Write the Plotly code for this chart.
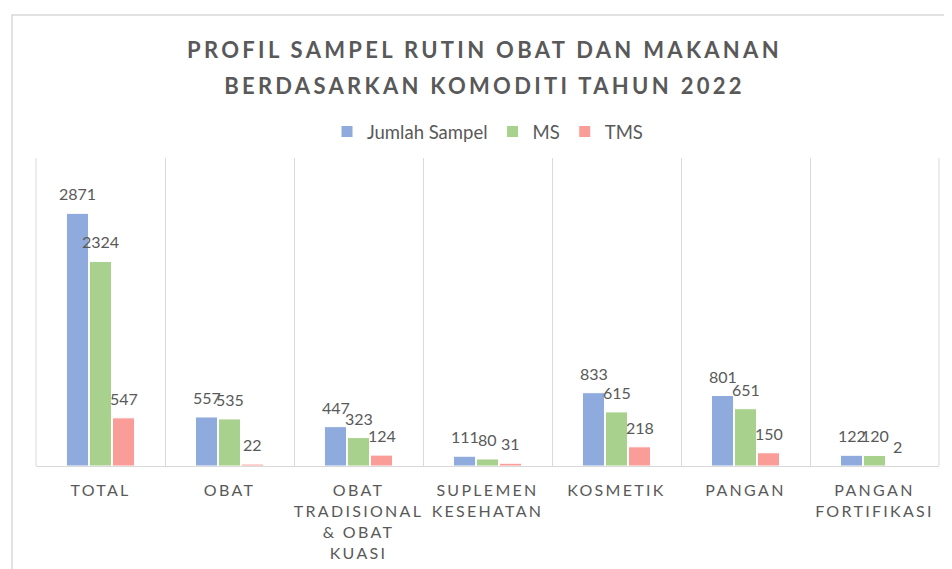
import plotly.graph_objects as go

categories = ["TOTAL", "OBAT", "OBAT TRADISIONAL & OBAT KUASI", "SUPLEMEN KESEHATAN",
              "KOSMETIK", "PANGAN", "PANGAN FORTIFIKASI"]
tick_labels = ["TOTAL", "OBAT", "OBAT<br>TRADISIONAL<br>& OBAT<br>KUASI", "SUPLEMEN<br>KESEHATAN",
               "KOSMETIK", "PANGAN", "PANGAN<br>FORTIFIKASI"]
jumlah_sampel = [2871, 557, 447, 111, 833, 801, 122]
ms = [2324, 535, 323, 80, 615, 651, 120]
tms = [547, 22, 124, 31, 218, 150, 2]
series_names = ["Jumlah Sampel", "MS", "TMS"]
title_lines = ["PROFIL SAMPEL RUTIN OBAT DAN MAKANAN", "BERDASARKAN KOMODITI TAHUN 2022"]

colors = ["#8FAADC", "#A9D18E", "#FA9C98"]
grey = "#595959"
FONT = "Lato"
BARGAP = 0.465


def spaced(text, ls, size=None):
    fs = f"font-size:{size}px;" if size else ""
    return "<br>".join(f'<span style="{fs}letter-spacing:{ls}px">{ln}</span>' for ln in text.split("<br>"))


fig = go.Figure()
series = [jumlah_sampel, ms, tms]
for name, vals, col in zip(series_names, series, colors):
    fig.add_trace(go.Bar(x=categories, y=vals, name=name,
                         marker=dict(color=col, line=dict(color="white", width=1))))

slot = (1 - BARGAP) / 3
annotations = []
for k, vals in enumerate(series):
    off = (k - 1) * slot
    for i, v in enumerate(vals):
        annotations.append(dict(x=i + off, y=v, xref="x", yref="y", text=str(v),
                                showarrow=False, yanchor="bottom", yshift=8,
                                font=dict(family=FONT, size=16, color=grey)))

# page body adds an 8px offset; layout below is in figure pixels
W, H = 952, 569
L, R, T, B = 28, 21, 150, 111
pw, ph = W - L - R, H - T - B


def px_x(p):
    return (p - L) / pw


def px_y(p):
    return (H - B - p) / ph


fig.update_layout(
    width=W, height=H,
    margin=dict(l=L, r=R, t=T, b=B, autoexpand=False),
    paper_bgcolor="white", plot_bgcolor="white",
    barmode="group", bargap=BARGAP, bargroupgap=0.04,
    title=dict(text=spaced("<br>".join(title_lines), 3.3, 22), x=px_x(480), xanchor="center",
               y=1 - 50 / H, yanchor="middle", yref="container",
               font=dict(family=FONT, size=27.7, color=grey, weight="bold")),
    legend=dict(orientation="h", x=0.5, xanchor="center", y=px_y(124), yanchor="middle",
                font=dict(family=FONT, size=18.5, color=grey), itemwidth=30,
                traceorder="normal"),
    xaxis=dict(type="category", range=[-0.5, 6.5], tickson="boundaries",
               tickvals=categories, ticktext=[spaced(t, 2.3) for t in tick_labels],
               tickangle=0, automargin=False,
               showgrid=True, gridcolor="#D9D9D9", gridwidth=1,
               showline=True, linecolor="#D9D9D9", linewidth=1,
               ticks="", tickfont=dict(family=FONT, size=16, color=grey),
               ticklabelstandoff=10),
    yaxis=dict(range=[0, 3500], visible=False, automargin=False),
    annotations=annotations,
    shapes=[dict(type="rect", xref="paper", yref="paper",
                 x0=px_x(4), y0=px_y(600), x1=px_x(990), y1=px_y(7),
                 line=dict(color="#D9D9D9", width=1.5), layer="below"),
            dict(type="line", xref="paper", yref="paper", x0=0, x1=0, y0=0, y1=1,
                 line=dict(color="#D9D9D9", width=1), layer="below"),
            dict(type="line", xref="paper", yref="paper", x0=1, x1=1, y0=0, y1=1,
                 line=dict(color="#D9D9D9", width=1), layer="below")],
    showlegend=True,
)

fig.write_html("out.html")
